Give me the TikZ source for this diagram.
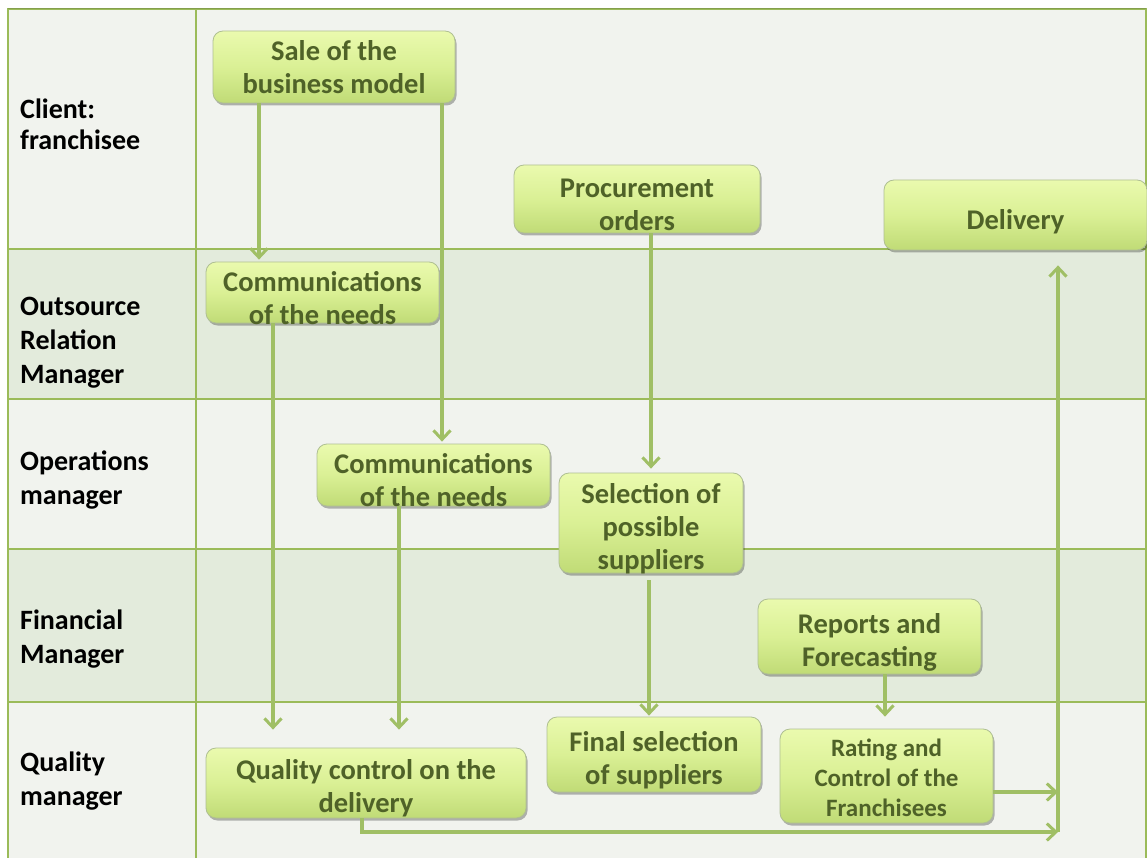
\documentclass[tikz,border=0pt]{standalone}
\usepackage{fontspec}
\setmainfont{Carlito}
\usetikzlibrary{arrows.meta,shadows}

\definecolor{laneLight}{HTML}{F1F3EE}
\definecolor{laneDark}{HTML}{E3EBDC}
\definecolor{ruleGreen}{HTML}{9BBB59}
\definecolor{boxTop}{HTML}{EAFAAE}
\definecolor{boxMid}{HTML}{DAF095}
\definecolor{boxBot}{HTML}{C0DB76}
\definecolor{boxEdge}{HTML}{AFBF92}
\definecolor{boxText}{HTML}{4F6228}
\definecolor{flowGreen}{HTML}{A0BF65}

% extra room above the first line, so the text sits a little low in its box
\newcommand\liftbig{\rule{0pt}{31pt}}
\newcommand\liftsmall{\rule{0pt}{22pt}}

\tikzset{
  rulerline/.style={draw=ruleGreen, line width=2pt},
  lanelabel/.style={anchor=west, align=left, text=black,
    font=\bfseries\fontsize{28pt}{34pt}\selectfont, inner sep=0pt},
  task/.style={rounded corners=10pt, draw=boxEdge, line width=0.8pt,
    top color=boxTop, bottom color=boxBot, middle color=boxMid,
    text=boxText, align=center, inner xsep=1pt, inner ysep=-6pt,
    font=\bfseries\fontsize{28.5pt}{33pt}\selectfont,
    drop shadow={shadow xshift=1.5pt, shadow yshift=-2.5pt,
      fill=black, opacity=0.28}},
  flow/.style={draw=flowGreen, line width=3.4pt,
    -{Straight Barb[length=9pt,width=17pt,line width=3pt]}},
}

\begin{document}
\begin{tikzpicture}[x=1pt,y=-1pt]
\useasboundingbox (0,0) rectangle (1147,858);
\fill[white] (0,0) rectangle (1147,858);

% swim lanes
\fill[laneLight] (8,9)   rectangle (1146,249);
\fill[laneDark]  (8,249) rectangle (1146,399);
\fill[laneLight] (8,399) rectangle (1146,549);
\fill[laneDark]  (8,549) rectangle (1146,702);
\fill[laneLight] (8,702) rectangle (1146,858);

% grid
\draw[rulerline] (8,249) -- (1146,249);
\draw[rulerline] (8,399) -- (1146,399);
\draw[rulerline] (8,549) -- (1146,549);
\draw[rulerline] (8,702) -- (1146,702);
\draw[rulerline] (8,858) -- (8,9.5) -- (1146,9.5) -- (1146,858);
\draw[rulerline] (196,9) -- (196,858);
\draw[draw=ruleGreen!85!black, line width=0.8pt] (8,8.5) -- (1146,8.5);

% lane titles
\node[lanelabel, font=\bfseries\fontsize{28pt}{31pt}\selectfont] (l1) at (20,124)
  {Client:\\franchisee};
\node[lanelabel] (l2) at (20,343) {Outsource\\Relation\\Manager};
\node[lanelabel] (l3) at (20,480) {Operations\\manager};
\node[lanelabel] (l4) at (20,639) {Financial\\Manager};
\node[lanelabel] (l5) at (20,781) {Quality\\manager};

% tasks
\node[task, minimum width=242pt, minimum height=72pt] (sale) at (334,67)
  {Sale of the\\business model};
\node[task, minimum width=246pt, minimum height=68pt] (proc) at (637,199)
  {\liftbig Procurement\\orders};
\node[task, minimum width=263pt, minimum height=70pt] (deliv) at (1015.5,215)
  {\rule{0pt}{34pt}Delivery};
\node[task, minimum width=233pt, minimum height=61pt] (comm1) at (322.5,292.5)
  {\liftbig Communications\\of the needs};
\node[task, minimum width=233pt, minimum height=62pt] (comm2) at (433.5,475)
  {\liftbig Communications\\of the needs};
\node[task, minimum width=184pt, minimum height=100pt] (sel) at (651,523)
  {\liftbig Selection of\\possible\\suppliers};
\node[task, minimum width=223pt, minimum height=75pt] (rep) at (869.5,636.5)
  {\liftbig Reports and\\Forecasting};
\node[task, minimum width=214pt, minimum height=75pt] (final) at (654,754.5)
  {\liftbig Final selection\\of suppliers};
\node[task, minimum width=320pt, minimum height=70pt] (qc) at (366,783)
  {\liftbig Quality control on the\\delivery};
\node[task, minimum width=213pt, minimum height=94pt,
  font=\bfseries\fontsize{25pt}{30pt}\selectfont] (rate) at (886.5,776)
  {\liftsmall Rating and\\Control of the\\Franchisees};

% connector columns
\coordinate (cA) at (259,0);
\coordinate (cB) at (442,0);
\coordinate (cC) at (651,0);
\coordinate (cD) at (273,0);
\coordinate (cE) at (399,0);
\coordinate (cF) at (649,0);
\coordinate (cG) at (885,0);
\coordinate (cH) at (362,0);
\coordinate (bus) at (1058,832);
\coordinate (busR) at (1058,792);

% flows
\draw[flow, shorten >=2pt] (sale.south -| cA) -- (comm1.north -| cA);
\draw[flow, shorten >=2pt] (sale.south -| cB) -- (comm2.north -| cB);
\draw[flow, shorten >=4pt] (proc.south -| cC) -- (sel.north -| cC);
\draw[flow, shorten >=18pt] (comm1.south -| cD) -- (qc.north -| cD);
\draw[flow, shorten >=18pt] (comm2.south -| cE) -- (qc.north -| cE);
\draw[flow, shorten <=7pt, shorten >=1pt] (sel.south -| cF) -- (final.north -| cF);
\draw[flow, shorten >=12pt] (rep.south -| cG) -- (rate.north -| cG);
\draw[flow] (rate.east |- busR) -- (busR);
\draw[flow] (qc.south -| cH) |- (bus);
\draw[flow, shorten >=15pt] (bus) -- (deliv.south -| bus);
\end{tikzpicture}
\end{document}
